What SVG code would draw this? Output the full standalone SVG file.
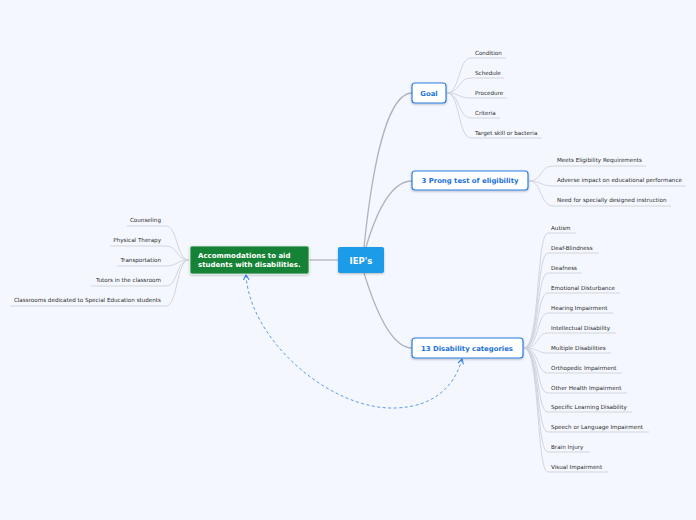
<svg xmlns="http://www.w3.org/2000/svg" width="696" height="520" viewBox="0 0 696 520">
<style>
.main{fill:none;stroke:#b3b3bb;stroke-width:1.3}
.sub{fill:none;stroke:#cfd0d8;stroke-width:0.9}
.lbl{font-family:"DejaVu Sans",Verdana,sans-serif;font-size:5.62px;fill:#2a2a2a}
.rl{text-anchor:end}
.topic{fill:#fff;stroke:#2b7fe2;stroke-width:1.2}
.tt{font-family:"DejaVu Sans",Verdana,sans-serif;font-weight:bold;font-size:6.9px;fill:#1a72d8;text-anchor:middle}
.at{font-family:"DejaVu Sans",Verdana,sans-serif;font-weight:bold;font-size:7px;fill:#fff}
.rel{fill:none;stroke:#4a90e8;stroke-width:0.9;stroke-dasharray:3,2.5}
</style>
<defs>
<marker id="arr" viewBox="0 0 10 10" refX="8" refY="5" markerWidth="7" markerHeight="7" markerUnits="userSpaceOnUse" orient="auto-start-reverse">
<path d="M1,1 L8,5 L1,9" fill="none" stroke="#3a86e6" stroke-width="1.6"/>
</marker>
<filter id="sh" x="-10%" y="-20%" width="120%" height="150%">
<feDropShadow dx="0" dy="1" stdDeviation="0.8" flood-color="#000" flood-opacity="0.25"/>
</filter>
</defs>
<rect width="696" height="520" fill="#f4f7fe"/>
<g id="connectors">
<path class="main" d="M364,247 C374,150 390,93 412,93"/>
<path class="main" d="M366,247 C380,200 395,181 412,181"/>
<path class="main" d="M364,273 C376,312 392,348 412,348"/>
<path class="main" d="M338,260 L309,260"/>
<path class="sub" d="M447,93 C460,93 458,58 471,58 L506,58"/>
<path class="sub" d="M447,93 C460,93 458,78 471,78 L504,78"/>
<path class="sub" d="M447,93 C460,93 458,98 471,98 L507,98"/>
<path class="sub" d="M447,93 C460,93 458,118 471,118 L500,118"/>
<path class="sub" d="M447,93 C460,93 458,138 471,138 L542,138"/>
<path class="sub" d="M529,181 C542,181 540,166 553,166 L646,166"/>
<path class="sub" d="M529,181 C542,181 540,186 553,186 L686,186"/>
<path class="sub" d="M529,181 C542,181 540,206 553,206 L671,206"/>
<path class="sub" d="M524,348 C540,348 536,233 548,233 L576,233"/>
<path class="sub" d="M524,348 C540,348 536,253 548,253 L599,253"/>
<path class="sub" d="M524,348 C540,348 536,273 548,273 L582,273"/>
<path class="sub" d="M524,348 C540,348 536,293 548,293 L620,293"/>
<path class="sub" d="M524,348 C540,348 536,313 548,313 L613,313"/>
<path class="sub" d="M524,348 C540,348 536,333 548,333 L616,333"/>
<path class="sub" d="M524,348 C540,348 536,353 548,353 L611,353"/>
<path class="sub" d="M524,348 C540,348 536,373 548,373 L622,373"/>
<path class="sub" d="M524,348 C540,348 536,393 548,393 L627,393"/>
<path class="sub" d="M524,348 C540,348 536,412 548,412 L632,412"/>
<path class="sub" d="M524,348 C540,348 536,432 548,432 L649,432"/>
<path class="sub" d="M524,348 C540,348 536,452 548,452 L590,452"/>
<path class="sub" d="M524,348 C540,348 536,472 548,472 L608,472"/>
<path class="sub" d="M189,260 C176,260 178,226 166,226 L127,226"/>
<path class="sub" d="M189,260 C176,260 178,246 166,246 L110,246"/>
<path class="sub" d="M189,260 C176,260 178,266 166,266 L117,266"/>
<path class="sub" d="M189,260 C176,260 178,286 166,286 L91,286"/>
<path class="sub" d="M189,260 C176,260 178,306 166,306 L10,306"/>
<path class="rel" d="M246,275 C250,340 330,410 395,408 C435,407 455,385 462,359" marker-start="url(#arr)" marker-end="url(#arr)"/>
</g>
<g id="iep">
<rect x="338" y="247" width="46" height="26" rx="2" fill="#1c9be8" filter="url(#sh)"/>
<text x="361" y="264" font-family="DejaVu Sans,Verdana,sans-serif" font-weight="bold" font-size="8.5" fill="#fff" text-anchor="middle">IEP's</text>
</g>
<g id="goal">
<rect class="topic" x="412" y="83" width="34" height="20" rx="3" filter="url(#sh)"/>
<text class="tt" x="429" y="95.5">Goal</text>
</g>
<g id="goal-items">
<text class="lbl" x="475" y="55">Condition</text>
<text class="lbl" x="475" y="75">Schedule</text>
<text class="lbl" x="475" y="95">Procedure</text>
<text class="lbl" x="475" y="115">Criteria</text>
<text class="lbl" x="475" y="135">Target skill or bacteria</text>
</g>
<g id="prong">
<rect class="topic" x="412" y="171" width="116" height="19" rx="3" filter="url(#sh)"/>
<text class="tt" x="470" y="183">3 Prong test of eligibility</text>
</g>
<g id="prong-items">
<text class="lbl" x="557" y="162">Meets Eligibility Requirements</text>
<text class="lbl" x="557" y="182">Adverse impact on educational performance</text>
<text class="lbl" x="557" y="202">Need for specially designed instruction</text>
</g>
<g id="disability">
<rect class="topic" x="412" y="338" width="111" height="20" rx="3" filter="url(#sh)"/>
<text class="tt" x="467" y="350.5">13 Disability categories</text>
</g>
<g id="disability-items">
<text class="lbl" x="551" y="230">Autism</text>
<text class="lbl" x="551" y="250">Deaf-Blindness</text>
<text class="lbl" x="551" y="270">Deafness</text>
<text class="lbl" x="551" y="290">Emotional Disturbance</text>
<text class="lbl" x="551" y="310">Hearing Impairment</text>
<text class="lbl" x="551" y="330">Intellectual Disability</text>
<text class="lbl" x="551" y="350">Multiple Disabilities</text>
<text class="lbl" x="551" y="370">Orthopedic Impairment</text>
<text class="lbl" x="551" y="390">Other Health Impairment</text>
<text class="lbl" x="551" y="409">Specific Learning Disability</text>
<text class="lbl" x="551" y="429">Speech or Language Impairment</text>
<text class="lbl" x="551" y="449">Brain Injury</text>
<text class="lbl" x="551" y="469">Visual Impairment</text>
</g>
<g id="accommodations">
<rect x="190" y="246" width="119" height="28" rx="2" fill="#178236" stroke="#e8efe9" stroke-width="0.8" filter="url(#sh)"/>
<text class="at" x="198" y="258">Accommodations to aid</text>
<text class="at" x="198" y="267">students with disabilities.</text>
</g>
<g id="accommodation-items">
<text class="lbl rl" x="161" y="222">Counseling</text>
<text class="lbl rl" x="161" y="242">Physical Therapy</text>
<text class="lbl rl" x="161" y="262">Transportation</text>
<text class="lbl rl" x="161" y="282">Tutors in the classroom</text>
<text class="lbl rl" x="161" y="302">Classrooms dedicated to Special Education students</text>
</g>
</svg>
